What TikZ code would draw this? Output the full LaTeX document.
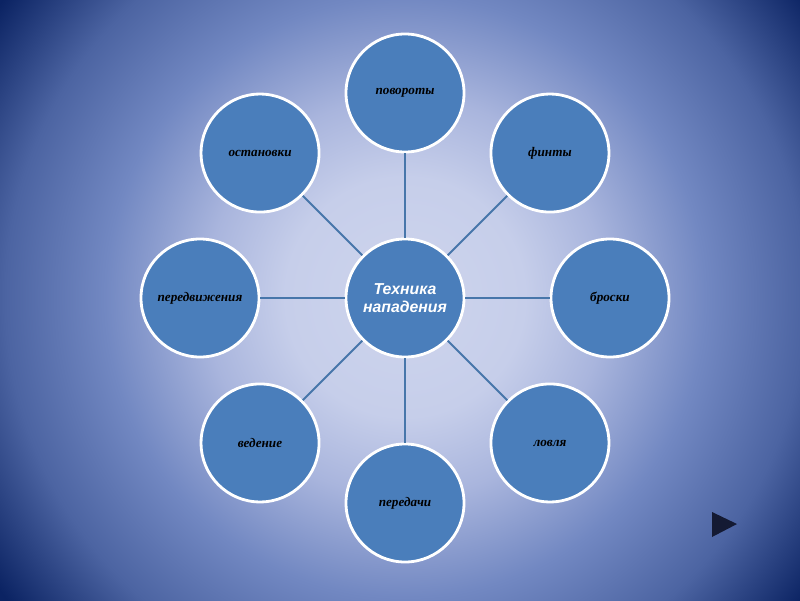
\documentclass[tikz,border=0pt]{standalone}
\usepackage{fontspec}
\setmainfont{Liberation Serif}
\setsansfont{Liberation Sans}
\usetikzlibrary{calc}

\definecolor{bg0}{HTML}{CED5ED}
\definecolor{bg1}{HTML}{C6CEEA}
\definecolor{bg2}{HTML}{A9B5DD}
\definecolor{bg3}{HTML}{7288C2}
\definecolor{bg4}{HTML}{4C64A2}
\definecolor{bg5}{HTML}{0B2363}
\definecolor{ballblue}{HTML}{4A7EBB}
\definecolor{spokeblue}{HTML}{4776AA}
\definecolor{navtri}{HTML}{141A33}
\pgfdeclareradialshading{slidebg}{\pgfpoint{0bp}{0bp}}{color(0bp)=(bg0); color(6bp)=(bg1); color(10bp)=(bg2); color(15bp)=(bg3); color(20bp)=(bg4); color(25bp)=(bg5); color(50bp)=(bg5)}

\begin{document}
\begin{tikzpicture}[
  ball/.style={circle, draw=white, line width=1.6pt, fill=ballblue, minimum size=2.36cm,
               inner sep=0pt, align=center, font=\fontsize{7.5}{9}\selectfont\bfseries\itshape},
  hub/.style={ball, text=white, font=\fontsize{9}{10.5}\selectfont\sffamily\bfseries\itshape},
  spoke/.style={draw=spokeblue, line width=1.1pt}
]
  \useasboundingbox (0,0) rectangle (16,12);
  \begin{scope}
    \clip (0,0) rectangle (16,12);
    \shade[shading=slidebg] (-1.9,-3.94) rectangle (18.1,16.06);
  \end{scope}

  \node[hub] (tech) at (8.1,6.04) {Техника\\нападения};

  \node[ball] (turns)  at ($(tech)+(90:4.1)$)   {повороты};
  \node[ball] (feints) at ($(tech)+(45:4.1)$)   {финты};
  \node[ball] (shots)  at ($(tech)+(0:4.1)$)    {броски};
  \node[ball] (catch)  at ($(tech)+(-45:4.1)$)  {ловля};
  \node[ball] (passes) at ($(tech)+(-90:4.1)$)  {передачи};
  \node[ball] (dribble) at ($(tech)+(-135:4.1)$) {ведение};
  \node[ball] (moves)  at ($(tech)+(180:4.1)$)  {передвижения};
  \node[ball] (stops)  at ($(tech)+(135:4.1)$)  {остановки};

  \draw[spoke] (tech) -- (turns);
  \draw[spoke] (tech) -- (feints);
  \draw[spoke] (tech) -- (shots);
  \draw[spoke] (tech) -- (catch);
  \draw[spoke] (tech) -- (passes);
  \draw[spoke] (tech) -- (dribble);
  \draw[spoke] (tech) -- (moves);
  \draw[spoke] (tech) -- (stops);

  % play button
  \fill[navtri] (14.24,1.76) -- (14.74,1.52) -- (14.24,1.26) -- cycle;
\end{tikzpicture}
\end{document}
